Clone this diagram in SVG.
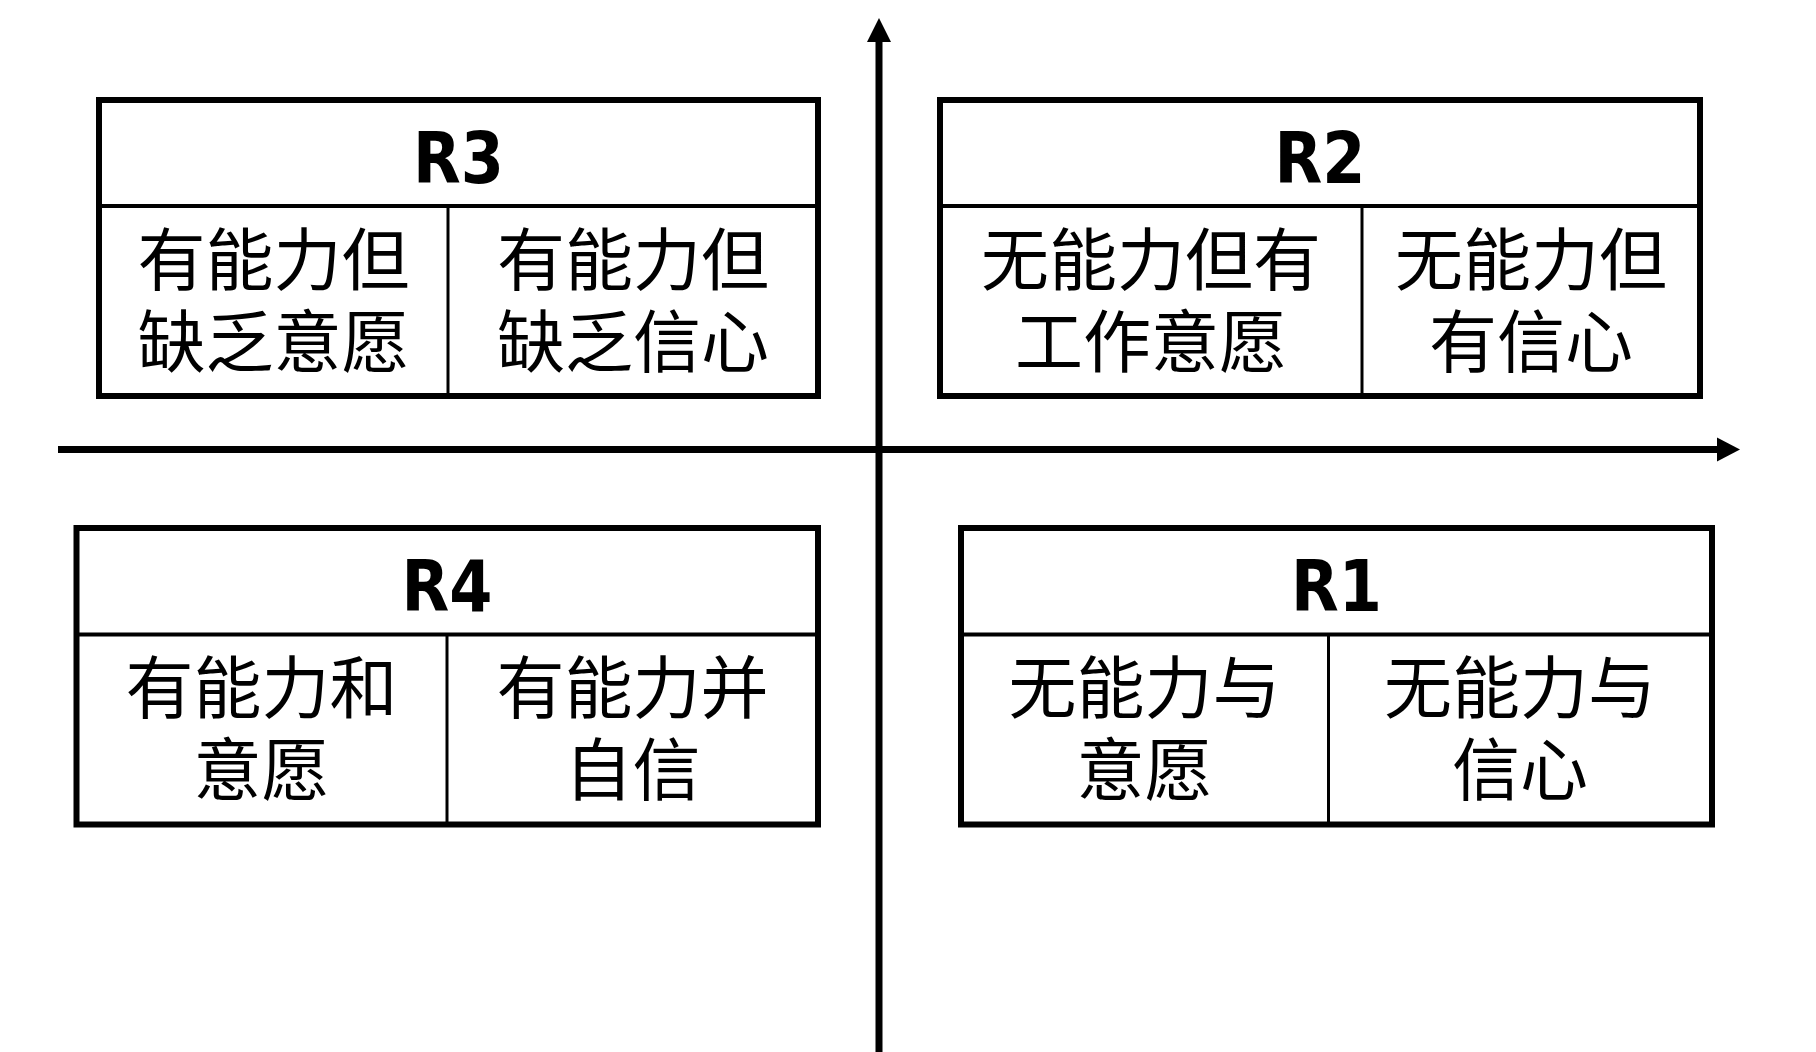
<svg xmlns="http://www.w3.org/2000/svg" width="1816" height="1052" viewBox="0 0 1816 1052">
<style>
.frame{fill:#fff;stroke:#000;stroke-width:6}
.hline{stroke:#000;stroke-width:4}
.vline{stroke:#000;stroke-width:3}
.title{font-family:"DejaVu Sans","Liberation Sans",sans-serif;font-weight:bold;font-size:71px;text-anchor:middle;fill:#000}
.cn{font-family:"Noto Sans CJK SC",sans-serif;font-size:68px;text-anchor:middle;fill:#000}
.axis{stroke:#000;stroke-width:7}
</style>
<rect width="1816" height="1052" fill="#fff"/>
<g id="axes">
<line class="axis" x1="879" y1="1052" x2="879" y2="40"/>
<polygon points="879,18 867,42 891,42" fill="#000"/>
<line class="axis" x1="58" y1="449.5" x2="1719" y2="449.5"/>
<polygon points="1740,449.5 1717,437.5 1717,461.5" fill="#000"/>
</g>
<g id="R3">
<rect class="frame" x="99" y="100" width="719" height="296"/>
<line class="hline" x1="99" y1="206" x2="818" y2="206"/>
<line class="vline" x1="448" y1="206" x2="448" y2="396"/>
<text class="title" x="458.5" y="183" textLength="91" lengthAdjust="spacingAndGlyphs">R3</text>
<text class="cn" x="273.5" y="284.5">有能力但</text>
<text class="cn" x="273.5" y="366.5">缺乏意愿</text>
<text class="cn" x="633" y="284.5">有能力但</text>
<text class="cn" x="633" y="366.5">缺乏信心</text>
</g>
<g id="R2">
<rect class="frame" x="940" y="100" width="760" height="296"/>
<line class="hline" x1="940" y1="206" x2="1700" y2="206"/>
<line class="vline" x1="1362" y1="206" x2="1362" y2="396"/>
<text class="title" x="1320" y="183" textLength="91" lengthAdjust="spacingAndGlyphs">R2</text>
<text class="cn" x="1151" y="284.5">无能力但有</text>
<text class="cn" x="1151" y="366.5">工作意愿</text>
<text class="cn" x="1531" y="284.5">无能力但</text>
<text class="cn" x="1531" y="366.5">有信心</text>
</g>
<g id="R4">
<rect class="frame" x="76.5" y="528" width="741.5" height="296.5"/>
<line class="hline" x1="76.5" y1="634.5" x2="818" y2="634.5"/>
<line class="vline" x1="447" y1="634.5" x2="447" y2="824.5"/>
<text class="title" x="447" y="611" textLength="91" lengthAdjust="spacingAndGlyphs">R4</text>
<text class="cn" x="261.5" y="712.5">有能力和</text>
<text class="cn" x="261.5" y="794.5">意愿</text>
<text class="cn" x="632.5" y="712.5">有能力并</text>
<text class="cn" x="632.5" y="794.5">自信</text>
</g>
<g id="R1">
<rect class="frame" x="961" y="528" width="751" height="296.5"/>
<line class="hline" x1="961" y1="634.5" x2="1712" y2="634.5"/>
<line class="vline" x1="1328.5" y1="634.5" x2="1328.5" y2="824.5"/>
<text class="title" x="1336.5" y="611" textLength="91" lengthAdjust="spacingAndGlyphs">R1</text>
<text class="cn" x="1144.5" y="712.5">无能力与</text>
<text class="cn" x="1144.5" y="794.5">意愿</text>
<text class="cn" x="1520" y="712.5">无能力与</text>
<text class="cn" x="1520" y="794.5">信心</text>
</g>
</svg>
